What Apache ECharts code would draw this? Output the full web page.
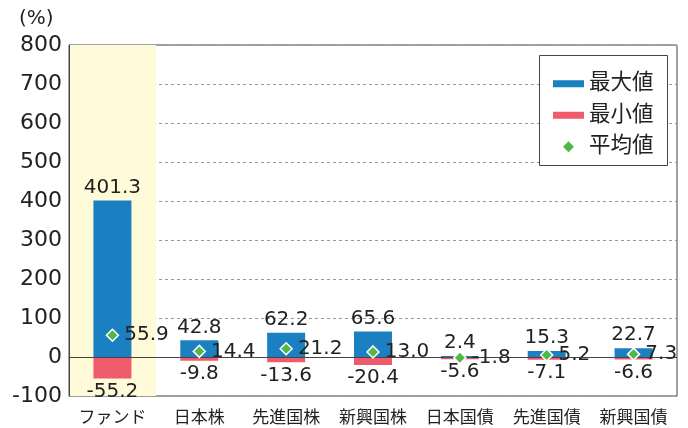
<!DOCTYPE html>
<html>
<head>
<meta charset="utf-8">
<script src="https://cdn.jsdelivr.net/npm/echarts@6/dist/echarts.min.js"></script>
<style>
  html, body { margin: 0; padding: 0; background: #fff; }
  #chart { width: 688px; height: 428px; }
</style>
</head>
<body>
<div id="chart"></div>
<script>
// データ
const categories = ['ファンド', '日本株', '先進国株', '新興国株', '日本国債', '先進国債', '新興国債']
const maxValues = [401.3, 42.8, 62.2, 65.6, 2.4, 15.3, 22.7]
const minValues = [-55.2, -9.8, -13.6, -20.4, -5.6, -7.1, -6.6]
const avgValues = [55.9, 14.4, 21.2, 13.0, -1.8, 5.2, 7.3]

const FONT = 'DejaVu Sans, Noto Sans CJK JP'
const BLUE = '#1a80c1'
const RED = '#f05b6b'
const GREEN = '#4fb848'

const chart = echarts.init(document.getElementById('chart'))

// 1本目だけ薄い黄色の背景
const bandColors = categories.map((c, i) => (i === 0 ? '#fffad8' : 'rgba(0,0,0,0)'))

const option = {
  animation: false,
  textStyle: { fontFamily: FONT },
  graphic: [
    {
      type: 'text',
      left: 19,
      top: 9,
      style: { text: '(%)', font: '20px ' + FONT, fill: '#222' }
    },
    {
      // 凡例の枠
      type: 'rect',
      z: 3,
      shape: { x: 539.5, y: 55.5, width: 128, height: 110 },
      style: { fill: '#fff', stroke: '#444', lineWidth: 1 }
    }
  ],
  grid: {
    left: 69, right: 11, top: 45, bottom: 32,
    outerBoundsMode: 'none',
    containLabel: false,
    show: true, borderColor: '#444', borderWidth: 1
  },
  legend: {
    data: [
      { name: '最大値', icon: 'path://M0 0H31V7H0Z' },
      { name: '最小値', icon: 'path://M0 0H31V7H0Z' },
      { name: '平均値', icon: 'path://M5 0L10 5L5 10L0 5Z', itemStyle: { borderWidth: 0 } }
    ],
    orient: 'vertical',
    left: 553,
    top: 73,
    itemWidth: 31,
    itemHeight: 11,
    itemGap: 10,
    padding: 0,
    z: 4,
    textStyle: { fontSize: 21.5, color: '#222', fontFamily: FONT }
  },
  xAxis: {
    type: 'category',
    data: categories,
    axisLine: { show: false },
    axisTick: { show: false },
    axisLabel: { interval: 0, fontSize: 17, color: '#222', margin: 14 },
    splitArea: {
      show: true,
      interval: 0,
      areaStyle: { color: bandColors }
    }
  },
  yAxis: {
    type: 'value',
    min: -100,
    max: 800,
    interval: 100,
    axisLine: { show: true, lineStyle: { color: '#444' } },
    axisTick: { show: false },
    axisLabel: { fontSize: 22, color: '#222', margin: 7 },
    splitLine: { lineStyle: { color: '#999', type: [3, 3] } }
  },
  series: [
    {
      name: '最大値',
      type: 'bar',
      data: maxValues,
      barWidth: 38,
      barGap: '-100%',
      itemStyle: { color: BLUE },
      label: { show: true, position: 'top', distance: 3, fontSize: 20, color: '#222' },
      z: 2
    },
    {
      name: '最小値',
      type: 'bar',
      data: minValues,
      barWidth: 38,
      itemStyle: { color: RED },
      label: { show: true, position: 'bottom', distance: 3, fontSize: 20, color: '#222' },
      markLine: {
        silent: true,
        symbol: 'none',
        label: { show: false },
        lineStyle: { color: '#444', type: 'solid', width: 1 },
        data: [{ yAxis: 0 }]
      },
      z: 2
    },
    {
      name: '平均値',
      type: 'scatter',
      data: avgValues,
      symbol: 'diamond',
      symbolSize: 12,
      itemStyle: { color: GREEN, opacity: 1, borderColor: '#fff', borderWidth: 1.5 },
      label: {
        show: true,
        position: 'right',
        distance: 5,
        fontSize: 20,
        color: '#222',
        formatter: (p) => p.value.toFixed(1)
      },
      z: 5
    }
  ]
}

chart.setOption(option)
</script>
</body>
</html>
